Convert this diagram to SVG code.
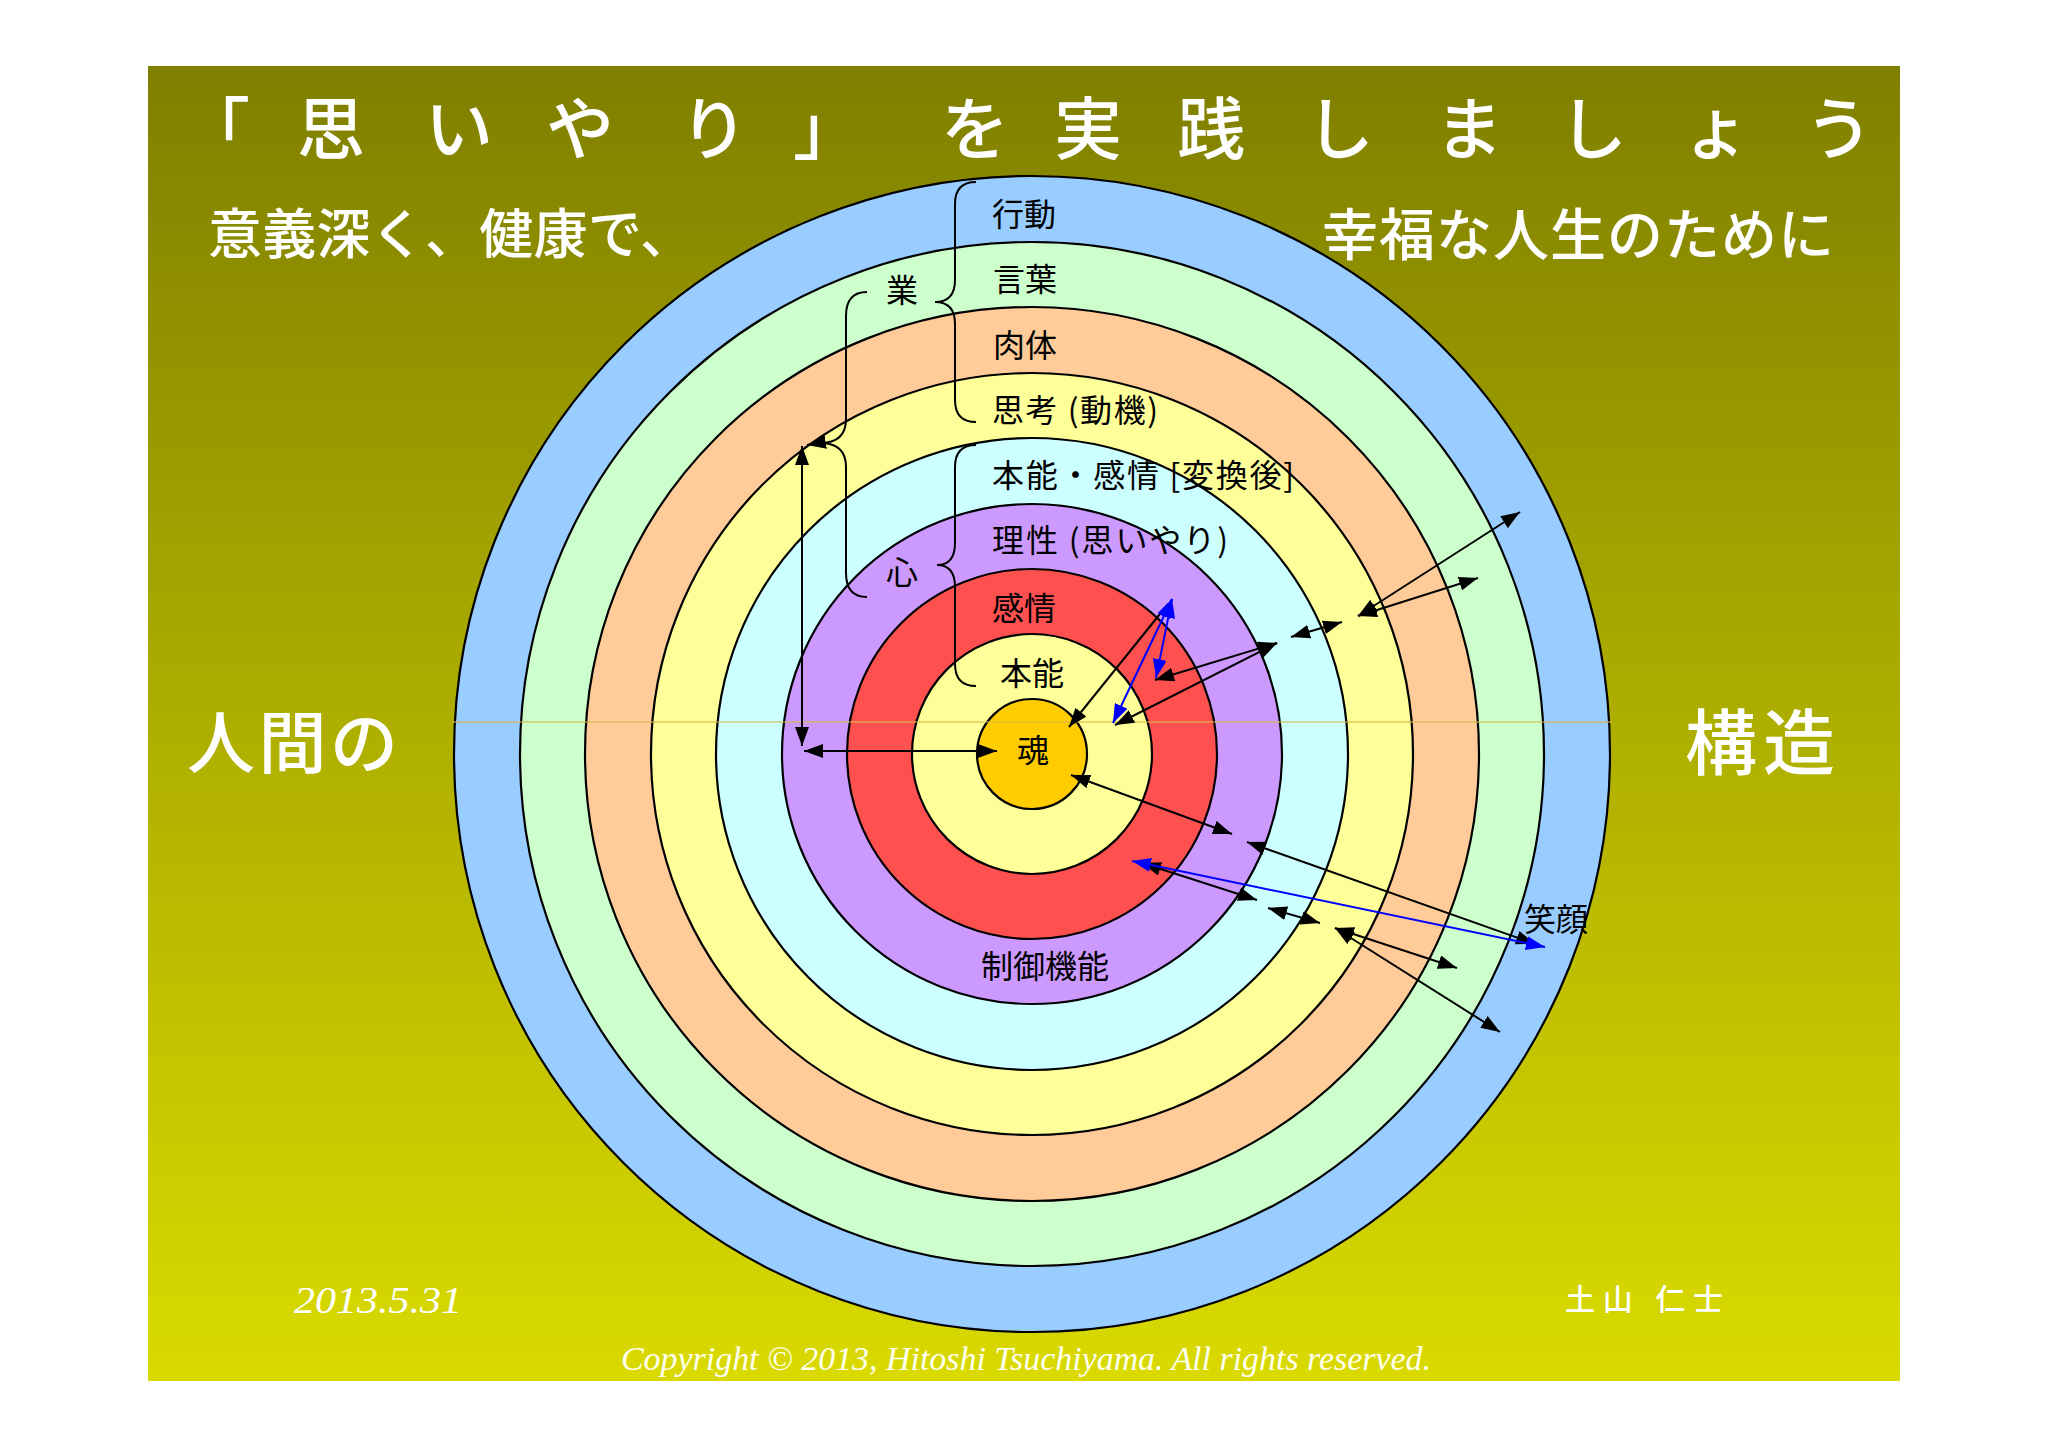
<svg xmlns="http://www.w3.org/2000/svg" width="2048" height="1447" viewBox="0 0 2048 1447">
<defs>
<linearGradient id="bg" x1="0" y1="0" x2="0" y2="1">
<stop offset="0" stop-color="#7F7F00"/>
<stop offset="0.5" stop-color="#AEAE00"/>
<stop offset="1" stop-color="#DADA00"/>
</linearGradient>
<marker id="ah" markerUnits="userSpaceOnUse" markerWidth="19" markerHeight="14" refX="19" refY="7" orient="auto-start-reverse"><path d="M0,0 L19,7 L0,14 z" fill="#000"/></marker>
<marker id="ahb" markerUnits="userSpaceOnUse" markerWidth="19" markerHeight="14" refX="19" refY="7" orient="auto-start-reverse"><path d="M0,0 L19,7 L0,14 z" fill="#0000FF"/></marker>
</defs>
<style>
.ring{stroke:#000;stroke-width:2.2}
.ttl{font-family:"Noto Sans CJK JP",sans-serif;fill:#fff;text-anchor:middle;font-weight:500}
.wt{font-family:"Noto Sans CJK JP",sans-serif;fill:#fff;font-weight:500}
.lb{font-family:"Noto Sans CJK JP",sans-serif;fill:#000;font-size:32px}
.br{fill:none;stroke:#000;stroke-width:2}
.ar{fill:none;stroke:#000;stroke-width:2;marker-start:url(#ah);marker-end:url(#ah)}
.ae{fill:none;stroke:#000;stroke-width:2;marker-end:url(#ah)}
.ab{fill:none;stroke:#0000FF;stroke-width:2;marker-start:url(#ahb);marker-end:url(#ahb)}
</style>
<rect width="2048" height="1447" fill="#fff"/>
<rect x="148" y="66" width="1752" height="1315" fill="url(#bg)"/>

<g id="title">
<text class="ttl" font-size="68" x="216" y="154">「</text>
<text class="ttl" font-size="68" x="331" y="154">思</text>
<text class="ttl" font-size="68" x="459" y="154">い</text>
<text class="ttl" font-size="68" x="580" y="154">や</text>
<text class="ttl" font-size="68" x="714" y="154">り</text>
<text class="ttl" font-size="68" x="827" y="154">」</text>
<text class="ttl" font-size="68" x="975" y="154">を</text>
<text class="ttl" font-size="68" x="1088" y="154">実</text>
<text class="ttl" font-size="68" x="1211" y="154">践</text>
<text class="ttl" font-size="68" x="1340" y="154">し</text>
<text class="ttl" font-size="68" x="1469" y="154">ま</text>
<text class="ttl" font-size="68" x="1593" y="154">し</text>
<text class="ttl" font-size="68" x="1716" y="154">ょ</text>
<text class="ttl" font-size="68" x="1839" y="154">う</text>
</g>
<g id="subtitles">
<text class="wt" font-size="54" x="208" y="254" textLength="486" lengthAdjust="spacing">意義深く、健康で、</text>
<text class="wt" font-size="56" x="1322" y="255" textLength="512" lengthAdjust="spacing">幸福な人生のために</text>
<text class="wt" font-size="68" x="187" y="768" textLength="211" lengthAdjust="spacing">人間の</text>
<text class="wt" font-size="72" x="1685" y="769" textLength="150" lengthAdjust="spacing">構造</text>
<text x="294" y="1313" font-family="Liberation Serif, serif" font-style="italic" font-size="38" fill="#fff" textLength="168" lengthAdjust="spacingAndGlyphs">2013.5.31</text>
<text class="wt" font-size="30" x="1565" y="1310" textLength="158" lengthAdjust="spacing">土山 仁士</text>
<text x="621" y="1370" font-family="Liberation Serif, serif" font-style="italic" font-size="34" fill="#FFFFF0" textLength="810" lengthAdjust="spacingAndGlyphs">Copyright © 2013, Hitoshi Tsuchiyama. All rights reserved.</text>
</g>

<g id="rings">
<circle class="ring" cx="1032" cy="754" r="578" fill="#99CCFF"/>
<circle class="ring" cx="1032" cy="754" r="512" fill="#CCFFCC"/>
<circle class="ring" cx="1032" cy="754" r="447" fill="#FFCC99"/>
<circle class="ring" cx="1032" cy="754" r="381" fill="#FFFF99"/>
<circle class="ring" cx="1032" cy="754" r="316" fill="#CCFFFF"/>
<circle class="ring" cx="1032" cy="754" r="250" fill="#CC99FF"/>
<circle class="ring" cx="1032" cy="754" r="185" fill="#FF5050"/>
<circle class="ring" cx="1032" cy="754" r="120" fill="#FFFF99"/>
<circle class="ring" cx="1032" cy="754" r="55" fill="#FFCC00"/>
<line x1="452" y1="722" x2="1612" y2="722" stroke="#D8B848" stroke-width="2" opacity="0.55"/>
</g>

<g id="labels">
<text class="lb" x="992" y="226">行動</text>
<text class="lb" x="993" y="291">言葉</text>
<text class="lb" x="993" y="357">肉体</text>
<text class="lb" x="992" y="422" textLength="166" lengthAdjust="spacing">思考 (動機)</text>
<text class="lb" x="992" y="487" textLength="302" lengthAdjust="spacing">本能・感情 [変換後]</text>
<text class="lb" x="992" y="552" textLength="236" lengthAdjust="spacing">理性 (思いやり)</text>
<text class="lb" x="992" y="620">感情</text>
<text class="lb" x="1000" y="685">本能</text>
<text class="lb" x="1033" y="762" text-anchor="middle">魂</text>
<text class="lb" x="1045" y="978" text-anchor="middle" font-size="33">制御機能</text>
<text class="lb" x="902" y="302" text-anchor="middle">業</text>
<text class="lb" x="902" y="584" text-anchor="middle">心</text>
<text class="lb" x="1556" y="931" text-anchor="middle" font-size="23">笑顔</text>
</g>

<g id="braces">
<path class="br" d="M976,182 Q955,182 955,204 L955,280 Q955,302 935,302 Q955,302 955,324 L955,400 Q955,422 976,422"/>
<path class="br" d="M976,445 Q955,445 955,467 L955,543 Q955,565 937,565 Q955,565 955,587 L955,664 Q955,686 976,686"/>
<path class="br" d="M867,292 Q846,292 846,316 L846,419 Q846,443 820,443 Q846,443 846,467 L846,573 Q846,597 867,597"/>
</g>

<g id="connectors">
<line class="ar" x1="802" y1="446" x2="802" y2="746"/>
<line class="ar" x1="804" y1="751" x2="997" y2="751"/>
<line class="ae" x1="825" y1="442" x2="807" y2="445"/>
<line class="ae" x1="1168" y1="604" x2="1069" y2="727"/>
<line class="ar" x1="1155" y1="680" x2="1277" y2="643"/>
<line class="ar" x1="1115" y1="725" x2="1277" y2="643"/>
<line class="ar" x1="1291" y1="637" x2="1342" y2="622"/>
<line class="ar" x1="1358" y1="616" x2="1520" y2="512"/>
<line class="ar" x1="1358" y1="616" x2="1478" y2="578"/>
<line class="ar" x1="1071" y1="775" x2="1232" y2="834"/>
<line class="ar" x1="1247" y1="842" x2="1535" y2="944"/>
<line class="ar" x1="1142" y1="863" x2="1257" y2="900"/>
<line class="ar" x1="1268" y1="908" x2="1320" y2="923"/>
<line class="ar" x1="1335" y1="928" x2="1457" y2="968"/>
<line class="ar" x1="1335" y1="928" x2="1500" y2="1032"/>
<line class="ab" x1="1113" y1="723" x2="1172" y2="599"/>
<line class="ab" x1="1156" y1="678" x2="1172" y2="599"/>
<line class="ab" x1="1132" y1="861" x2="1545" y2="947"/>
</g>
</svg>
